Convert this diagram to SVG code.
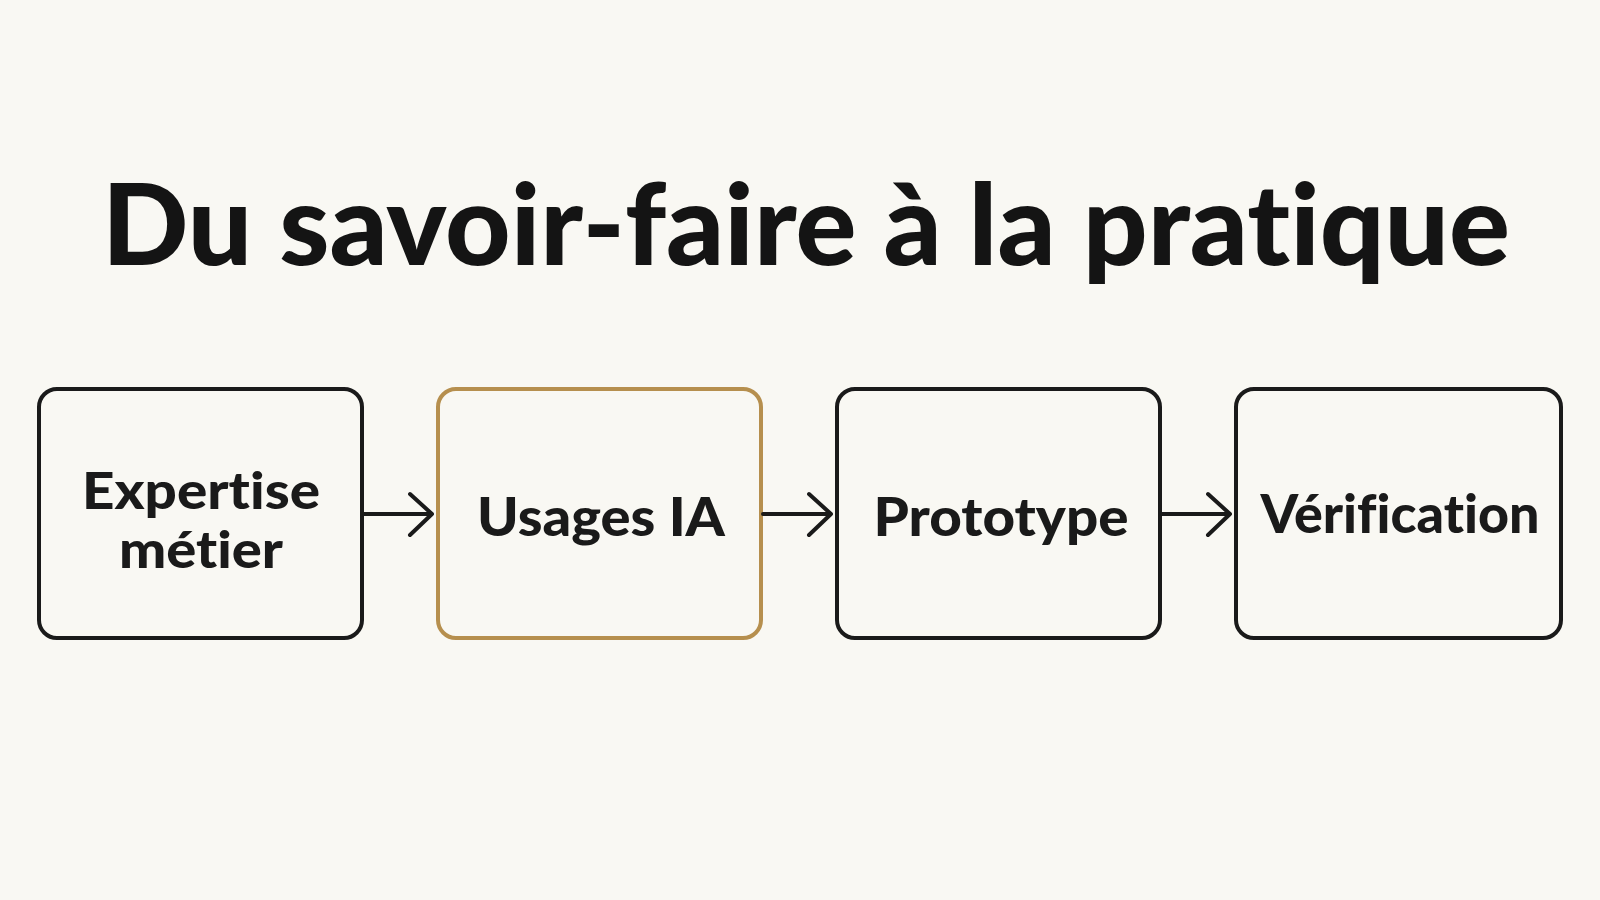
<svg xmlns="http://www.w3.org/2000/svg" width="1600" height="900" viewBox="0 0 1600 900">
<defs>
<style>
.bg{fill:#f9f8f3}
.title{font-family:Lato,"Noto Sans","Liberation Sans",sans-serif;font-weight:900;font-size:112px;fill:#141414;font-variant-ligatures:none}
.box{fill:#f9f8f3;stroke:#1a1a1a;stroke-width:4}
.box.hl{stroke:#b68f4e}
.lbl{font-family:Lato,"Noto Sans","Liberation Sans",sans-serif;font-weight:900;font-size:54px;fill:#1a1a1a;text-anchor:middle;font-variant-ligatures:none}
.lbl.two{font-size:52px}
.conn{fill:none;stroke:#1a1a1a;stroke-width:4;stroke-linecap:round;stroke-linejoin:round}
</style>
</defs>
<rect class="bg" x="0" y="0" width="1600" height="900"/>
<text class="title" x="102" y="265" textLength="1408" lengthAdjust="spacingAndGlyphs">Du savoir-faire à la pratique</text>
<g id="node-expertise">
<rect class="box" x="39" y="389" width="323" height="249" rx="18"/>
<text class="lbl two" x="201" y="509" textLength="238" lengthAdjust="spacingAndGlyphs">Expertise</text>
<text class="lbl two" x="201" y="568" textLength="164" lengthAdjust="spacingAndGlyphs">métier</text>
</g>
<g id="node-usages">
<rect class="box hl" x="438" y="389" width="323" height="249" rx="18"/>
<text class="lbl" x="601" y="536" textLength="248" lengthAdjust="spacingAndGlyphs">Usages IA</text>
</g>
<g id="node-prototype">
<rect class="box" x="837" y="389" width="323" height="249" rx="18"/>
<text class="lbl" x="1001" y="536" textLength="255" lengthAdjust="spacingAndGlyphs">Prototype</text>
</g>
<g id="node-verification">
<rect class="box" x="1236" y="389" width="325" height="249" rx="18"/>
<text class="lbl" x="1400" y="533" textLength="279" lengthAdjust="spacingAndGlyphs">Vérification</text>
</g>
<g id="connectors">
<path class="conn" d="M364 514 H432 M410 494 L432 514 L410 535"/>
<path class="conn" d="M763 514 H831 M809 494 L831 514 L809 535"/>
<path class="conn" d="M1162 514 H1230 M1208 494 L1230 514 L1208 535"/>
</g>
</svg>
